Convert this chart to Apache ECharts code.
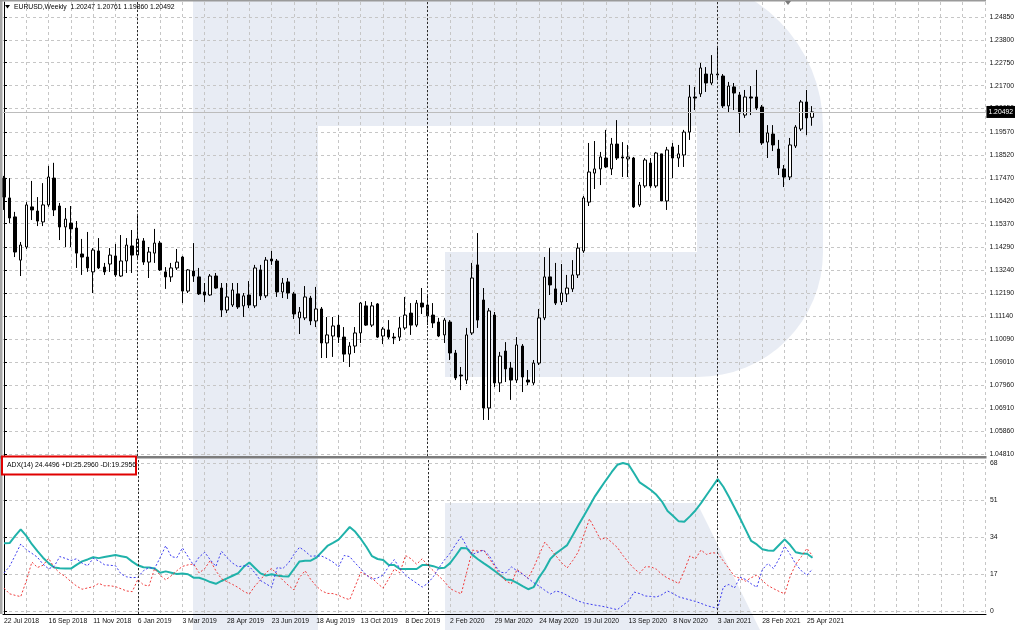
<!DOCTYPE html>
<html><head><meta charset="utf-8">
<script src="https://cdn.jsdelivr.net/npm/echarts@6/dist/echarts.min.js"></script>
<style>html,body{margin:0;padding:0;background:#fff}#c{width:1017px;height:630px}</style>
</head><body><div id="c"></div>
<script>
// ---------------- data ----------------
const chartTitle = 'EURUSD,Weekly  1.20247 1.20761 1.19860 1.20492';
const adxHeader = 'ADX(14) 24.4496 +DI:25.2960 -DI:19.2956';
const lastPrice = 1.20492;

const opens = [1.1746,1.1655,1.1568,1.1370,1.1430,1.1614,1.1595,1.1545,1.1623,1.1746,
1.1618,1.1522,1.1540,1.1517,1.1398,1.1384,1.1316,1.1412,1.1338,1.1352,
1.1389,1.1297,1.1366,1.1435,1.1393,1.1458,1.1361,1.1402,1.1448,1.1316,
1.1293,1.1334,1.1384,1.1228,1.1320,1.1293,1.1224,1.1210,1.1297,1.1242,
1.1141,1.1164,1.1215,1.1160,1.1210,1.1160,1.1325,1.1206,1.1375,1.1366,
1.1224,1.1270,1.1215,1.1105,1.1105,1.1196,1.1091,1.1146,1.0990,1.1022,
1.1072,1.1017,1.0939,1.0976,1.1036,1.1160,1.1072,1.1169,1.1022,1.1050,
1.1017,1.1017,1.1059,1.1127,1.1072,1.1173,1.1164,1.1118,1.1086,1.1027,
1.1086,1.0944,1.0843,1.0820,1.1036,1.1348,1.1187,1.0692,1.1118,1.0807,
1.0953,1.0875,1.0820,1.0976,1.0820,1.0807,1.0898,1.1105,1.1293,1.1238,
1.1178,1.1215,1.1238,1.1302,1.1412,1.1636,1.1769,1.1788,1.1838,1.1788,
1.1902,1.1843,1.1834,1.1838,1.1623,1.1710,1.1815,1.1710,1.1857,1.1641,
1.1889,1.1838,1.1852,1.1957,1.2118,1.2132,1.2223,1.2182,1.2223,1.2214,
1.2077,1.2164,1.2127,1.2035,1.2118,1.2118,1.2072,1.1911,1.1948,1.1879,
1.1788,1.1751,1.1893,1.1971,1.2095,1.20247];
const highs = [1.1756,1.1746,1.1591,1.1453,1.1636,1.1733,1.1659,1.1723,1.1802,1.1816,
1.1632,1.1609,1.1618,1.1549,1.1467,1.1499,1.1425,1.1471,1.1357,1.1425,
1.1444,1.1485,1.1471,1.1508,1.1581,1.1471,1.1430,1.1513,1.1458,1.1338,
1.1357,1.1421,1.1389,1.1329,1.1448,1.1334,1.1265,1.1306,1.1311,1.1265,
1.1265,1.1265,1.1265,1.1219,1.1274,1.1348,1.1348,1.1384,1.1412,1.1375,
1.1288,1.1288,1.1224,1.1155,1.1251,1.1206,1.1247,1.1155,1.1109,1.1109,
1.1118,1.1063,1.0994,1.1063,1.1178,1.1182,1.1178,1.1173,1.1063,1.1095,
1.1036,1.1109,1.1201,1.1173,1.1187,1.1242,1.1215,1.1173,1.1105,1.1105,
1.1095,1.0958,1.0880,1.1059,1.1357,1.1494,1.1242,1.1150,1.1132,1.0949,
1.0994,1.0903,1.1017,1.0985,1.0866,1.0912,1.1146,1.1384,1.1425,1.1357,
1.1352,1.1302,1.1370,1.1448,1.1664,1.1907,1.1916,1.1866,1.1967,1.1930,
1.2012,1.1911,1.1898,1.1843,1.1728,1.1838,1.1838,1.1866,1.1857,1.1889,
1.1907,1.1898,1.1967,1.2173,1.2164,1.2274,1.2255,1.2310,1.2347,1.2223,
1.2187,1.2182,1.2141,1.2150,1.2168,1.2242,1.2081,1.1989,1.1989,1.1921,
1.1806,1.1930,1.1989,1.2104,1.2150,1.20761];
const lows = [1.1600,1.1540,1.1384,1.1297,1.1421,1.1554,1.1526,1.1526,1.1614,1.1572,
1.1462,1.1430,1.1430,1.1334,1.1302,1.1316,1.1219,1.1329,1.1302,1.1316,
1.1293,1.1293,1.1311,1.1311,1.1380,1.1348,1.1288,1.1357,1.1320,1.1238,
1.1270,1.1325,1.1173,1.1219,1.1270,1.1210,1.1178,1.1206,1.1238,1.1109,
1.1127,1.1155,1.1146,1.1109,1.1150,1.1150,1.1187,1.1196,1.1348,1.1201,
1.1196,1.1192,1.1100,1.1031,1.1095,1.1072,1.1063,1.0921,1.0921,1.0926,
1.0990,1.0903,1.0880,1.0944,1.0990,1.1068,1.1063,1.1013,1.0985,1.1008,
1.0985,1.0999,1.1050,1.1027,1.1063,1.1123,1.1072,1.1059,1.1017,1.0990,
1.0912,1.0820,1.0774,1.0802,1.1027,1.1059,1.0637,1.0637,1.0788,1.0765,
1.0811,1.0729,1.0807,1.0765,1.0797,1.0797,1.0889,1.1095,1.1210,1.1164,
1.1164,1.1178,1.1224,1.1288,1.1403,1.1618,1.1696,1.1714,1.1792,1.1760,
1.1829,1.1751,1.1751,1.1609,1.1614,1.1701,1.1701,1.1701,1.1641,1.1600,
1.1746,1.1797,1.1797,1.1921,1.2058,1.2118,1.2141,1.2173,1.2196,1.2067,
1.2049,1.2058,1.1953,1.2022,1.2035,1.2058,1.1898,1.1838,1.1870,1.1760,
1.1705,1.1737,1.1884,1.1962,1.1943,1.19860];
const closes = [1.1659,1.1563,1.1407,1.1439,1.1623,1.1600,1.1549,1.1623,1.1751,1.1600,
1.1522,1.1558,1.1513,1.1402,1.1384,1.1334,1.1416,1.1334,1.1316,1.1393,
1.1302,1.1366,1.1439,1.1393,1.1467,1.1361,1.1407,1.1448,1.1325,1.1293,
1.1334,1.1361,1.1228,1.1325,1.1297,1.1215,1.1210,1.1297,1.1242,1.1141,
1.1201,1.1233,1.1155,1.1206,1.1164,1.1334,1.1206,1.1370,1.1366,1.1224,
1.1265,1.1219,1.1123,1.1132,1.1201,1.1091,1.1146,1.0990,1.1027,1.1068,
1.1017,1.0939,1.0976,1.1036,1.1173,1.1072,1.1160,1.1017,1.1054,1.1017,
1.1013,1.1059,1.1118,1.1072,1.1173,1.1155,1.1114,1.1082,1.1022,1.1095,
1.0944,1.0830,1.0839,1.1027,1.1288,1.1095,1.0692,1.1137,1.0807,1.0930,
1.0871,1.0820,1.0981,1.0834,1.0811,1.0898,1.1105,1.1293,1.1256,1.1173,
1.1219,1.1242,1.1302,1.1425,1.1655,1.1774,1.1788,1.1843,1.1797,1.1902,
1.1838,1.1838,1.1843,1.1614,1.1714,1.1829,1.1710,1.1861,1.1641,1.1875,
1.1838,1.1857,1.1957,1.2118,1.2113,1.2251,1.2182,1.2223,1.2219,1.2077,
1.2168,1.2136,1.2044,1.2118,1.2113,1.2067,1.1907,1.1953,1.1898,1.1792,
1.1751,1.1898,1.1980,1.2095,1.2022,1.20492];

const adx = [31.1,31.2,34.5,37.5,34.5,30.7,27.5,24.5,22,20,
19.7,19.5,19.5,21.2,22.8,23.7,24.7,24.3,24.8,25.3,
25.7,25.2,24.7,22.7,21,20.1,20,19.5,17.6,18.2,
17.6,17,17.2,16.9,15.3,15.3,14.4,13.3,12.5,13.8,
15,16.2,17.4,20.3,22.3,19.8,17.3,16.3,16.9,16.3,
16,15.8,19.3,22.8,23.1,23.1,24.5,27.2,29.9,31.3,
32.8,35.7,38.6,36.4,33.1,29.4,25.2,23.9,23.4,21.1,
21.1,19.3,19.3,19.3,19.3,21.1,21.1,20.6,19.7,19.9,
22,25.4,29,28.8,25.8,23.8,22,20.3,18.4,16.4,
14.5,14.2,12.9,11.4,10,11,15.6,19.3,24,26.5,
28.4,30.3,34.8,39.4,43.8,48.3,52.8,56.6,60.3,63.9,
67.2,68,67.3,63.3,59.1,57.4,55.6,53.4,50.3,46,
43.7,41.2,41,43.5,46.2,49.6,53.3,57,60.6,57.1,
52.5,47.6,42.6,37.4,32.2,30.6,28.4,27.8,27.7,30.3,
32.9,30.3,27,26.4,26.3,24.4496];
const plusDi = [10.5,7.9,7.2,6.6,13.8,22.5,20,21,24.2,20,
17.5,15.8,13.5,11.5,10,10.6,11.2,12.7,11.6,11.6,
11.2,10.2,9.2,8.9,14.5,12,11.5,19.4,16.5,14.3,
16.2,18.5,20.5,21.2,21.6,17.5,19.5,23.2,18.5,14.8,
13.5,12.2,10.8,9,7.8,11.5,14.3,17.6,19.6,16.8,
14.2,11.8,9.7,15.5,18.5,14.5,11.5,9.2,8.1,8,
7.2,6,5.2,11.5,17.8,16.5,15.2,12.6,10.5,14.8,
19.3,17.5,25.5,24,21.5,24,21,18.5,16,13.5,
10.3,9,7.9,18,28,27.5,28,24.2,20.5,16.5,
13.8,12.5,19.1,17,15,20,26,31.7,28.5,25.3,
22.2,19.8,23.2,27.2,35,42.3,37.5,32.8,33.8,31.5,
29.2,25.5,22.3,19.5,17.4,20.3,20.3,19.2,16.8,15.1,
14,12.6,18.5,25.3,24,28,26,26.8,26.5,23,
19.5,16,15,13.7,15.3,16.5,14,11.7,10.3,9,
7.9,16,21.5,25,28.8,25.296];
const minusDi = [17.5,20.5,25.5,30.8,28.2,26.5,24.7,21.5,19.4,20.5,
25,24.2,23.2,24,22,20.8,24.2,23,21.3,21,
20.8,17,15.7,15.3,15.5,18.5,20,19.5,24.5,30,
25,24.5,29,25,21,24.8,27,23.5,20.5,27.5,
24.5,22,20.3,20.8,20.5,17.5,14,12.5,10.9,20,
19.5,22,26,29.3,27.5,25.2,25.3,25.2,24,22.5,
20.3,25.5,25,22,19.3,16.5,14.5,15.2,16.5,20.5,
23.6,19.5,16.5,14.5,12.8,11,12.7,15.8,19.8,23.5,
26.5,30.6,34.3,29.5,26,27,28,25.5,21.2,17.8,
17.5,20.3,18.5,17,15,13,11.4,9.5,7.8,9.2,
8.5,7.2,5.8,4.6,3.7,3.2,2.7,2.3,1.8,1.2,
0.6,2.7,4.5,8.7,8,6.9,6.7,6.4,7.5,9.2,
8,6.5,5.8,5.1,4.4,3.5,2.5,1.8,1.2,11,
12.2,10.6,15.5,14.5,12.5,10.9,19,21.8,19.5,24,
29.8,26,21.5,18.5,16.5,19.2956];

const dateLabels = ['22 Jul 2018','16 Sep 2018','11 Nov 2018','6 Jan 2019','3 Mar 2019','28 Apr 2019',
'23 Jun 2019','18 Aug 2019','13 Oct 2019','8 Dec 2019','2 Feb 2020','29 Mar 2020','24 May 2020',
'19 Jul 2020','13 Sep 2020','8 Nov 2020','3 Jan 2021','28 Feb 2021','25 Apr 2021'];
const dateLabelIdx = [0,8,16,24,32,40,48,56,64,72,80,88,96,104,112,120,128,136,144];
const yearStartIdx = [24,76,128];
const priceTicks = [1.04810,1.05860,1.06910,1.07960,1.09010,1.10090,1.11140,1.12190,1.13240,1.14290,
1.15370,1.16420,1.17470,1.18520,1.19570,1.20650,1.21700,1.22750,1.23800,1.24850];
const adxTicks = [0,17,34,51,68];

// ---------------- chart ----------------
const FONT = 'Liberation Sans';
const FS = 6.8;
const gridX = [];
for (let k = 0; k <= 176; k += 4) gridX.push(k);
const labelMap = {};
dateLabelIdx.forEach((v, k) => labelMap[v] = dateLabels[k]);

const candleData = opens.map((o, i) => [i, o, closes[i], lows[i], highs[i]]);
const adxData = adx.map((v, i) => [i, v]);
const plusData = plusDi.map((v, i) => [i, v]);
const minusData = minusDi.map((v, i) => [i, v]);
const lastIdx = opens.length - 1;

const gridLine = { show: true, lineStyle: { color: '#c6c6c6', type: [3, 3], width: 1 } };
const yearLines = yearStartIdx.map(v => ({ xAxis: v, lineStyle: { color: '#2a2a2a', type: [2, 2], width: 1 }, label: { show: false } }));
const XMIN = -0.179, XMAX = 176.11;
const wm = '#e8ecf4';

const chart = echarts.init(document.getElementById('c'), null, { renderer: 'canvas' });
chart.setOption({
  animation: false,
  backgroundColor: '#ffffff',
  grid: [
    { left: 3, top: 2, width: 983, height: 454 },
    { left: 3, top: 460, width: 983, height: 154 }
  ],
  xAxis: [
    { type: 'value', gridIndex: 0, min: XMIN, max: XMAX,
      axisLine: { show: false }, axisLabel: { show: false },
      axisTick: { show: false, customValues: gridX }, splitLine: gridLine },
    { type: 'value', gridIndex: 1, min: XMIN, max: XMAX,
      axisLine: { show: true, onZero: false, lineStyle: { color: '#000', width: 1 } },
      axisTick: { show: false, customValues: gridX },
      axisLabel: { show: true, customValues: dateLabelIdx, formatter: v => labelMap[v] || '',
        align: 'left', margin: 4, color: '#111', fontFamily: FONT, fontSize: FS },
      splitLine: gridLine }
  ],
  yAxis: [
    { type: 'value', gridIndex: 0, position: 'right', min: 1.04718, max: 1.25534,
      axisLine: { show: true, lineStyle: { color: '#000' } },
      axisTick: { show: true, length: 3, lineStyle: { color: '#000' }, customValues: priceTicks },
      axisLabel: { show: true, customValues: priceTicks, formatter: v => v.toFixed(5), margin: 4,
        color: '#111', fontFamily: FONT, fontSize: FS },
      splitLine: gridLine },
    { type: 'value', gridIndex: 1, position: 'right', min: -1.38, max: 69.4,
      axisLine: { show: true, lineStyle: { color: '#000' } },
      axisTick: { show: true, length: 3, lineStyle: { color: '#000' }, customValues: adxTicks },
      axisLabel: { show: true, customValues: adxTicks, formatter: v => String(v), margin: 4,
        color: '#111', fontFamily: FONT, fontSize: FS },
      splitLine: gridLine }
  ],
  series: [
    { type: 'candlestick', xAxisIndex: 0, yAxisIndex: 0, data: candleData,
      encode: { x: 0, y: [1, 2, 3, 4] }, barWidth: 3,
      itemStyle: { color: '#ffffff', color0: '#000000', borderColor: '#000000', borderColor0: '#000000', borderWidth: 1 },
      markLine: { silent: true, symbol: 'none', animation: false, data: yearLines } },
    // carrier for the current-price line
    { type: 'line', xAxisIndex: 0, yAxisIndex: 0, data: [[lastIdx, lastPrice]], showSymbol: false,
      lineStyle: { opacity: 0 }, z: 1,
      markLine: { silent: true, symbol: 'none', animation: false, precision: 5,
        data: [{ yAxis: lastPrice, lineStyle: { color: '#bcbcbc', type: 'solid', width: 1 },
          label: { show: true, position: 'end', formatter: lastPrice.toFixed(5), backgroundColor: '#000',
            color: '#fff', fontFamily: FONT, fontSize: FS, padding: [3, 2, 2, 2], distance: 1 } }] } },
    { type: 'line', xAxisIndex: 1, yAxisIndex: 1, data: adxData, showSymbol: false,
      lineStyle: { color: '#20b2aa', width: 2 }, z: 3,
      markLine: { silent: true, symbol: 'none', animation: false, data: yearLines } },
    { type: 'line', xAxisIndex: 1, yAxisIndex: 1, data: plusData, showSymbol: false,
      lineStyle: { color: '#f03c3c', width: 1, type: [2, 2] }, z: 4 },
    { type: 'line', xAxisIndex: 1, yAxisIndex: 1, data: minusData, showSymbol: false,
      lineStyle: { color: '#3c3cf0', width: 1, type: [2, 2] }, z: 4 }
  ],
  graphic: { elements: [
    // watermark logo
    { type: 'rect', silent: true, z: -10, shape: { x: 193, y: 0, width: 125, height: 630 }, style: { fill: wm } },
    { type: 'rect', silent: true, z: -10, shape: { x: 318, y: -23, width: 505, height: 400, r: [0, 150, 125, 0] }, style: { fill: wm } },
    { type: 'rect', silent: true, z: -9, shape: { x: 318, y: 126, width: 379, height: 126 }, style: { fill: '#fff' } },
    { type: 'rect', silent: true, z: -9, shape: { x: 318, y: 252, width: 127, height: 125 }, style: { fill: '#fff' } },
    { type: 'polygon', silent: true, z: -10, shape: { points: [[445, 503], [697, 503], [760, 630], [445, 630]] }, style: { fill: wm } },
    // frame
    { type: 'rect', silent: true, z: 50, shape: { x: 0, y: 0, width: 2.5, height: 614 }, style: { fill: '#a8a8a8' } },
    { type: 'rect', silent: true, z: 50, shape: { x: 0, y: 0, width: 986, height: 1.5 }, style: { fill: '#9a9a9a' } },
    { type: 'rect', silent: true, z: 50, shape: { x: 0, y: 456, width: 986.5, height: 2.5 }, style: { fill: '#7c7c7c' } },
    { type: 'polygon', silent: true, z: 50, shape: { points: [[785, 1], [791, 1], [788, 5]] }, style: { fill: '#7a7a7a' } },
    // title
    { type: 'polygon', silent: true, z: 60, shape: { points: [[5, 5], [10, 5], [7.5, 8.5]] }, style: { fill: '#000' } },
    { type: 'text', silent: true, z: 60, x: 14, y: 7, style: { text: chartTitle, fill: '#000', font: FS + 'px "' + FONT + '"', verticalAlign: 'middle', textAlign: 'left' } },
    // ADX header box
    { type: 'rect', silent: true, z: 60, shape: { x: 2, y: 456.5, width: 134, height: 18 }, style: { fill: '#fff', stroke: '#e00000', lineWidth: 2 } },
    { type: 'text', silent: true, z: 61, x: 7, y: 465.5, style: { text: adxHeader, fill: '#000', font: FS + 'px "' + FONT + '"', verticalAlign: 'middle', textAlign: 'left' } }
  ] }
});
</script></body></html>
